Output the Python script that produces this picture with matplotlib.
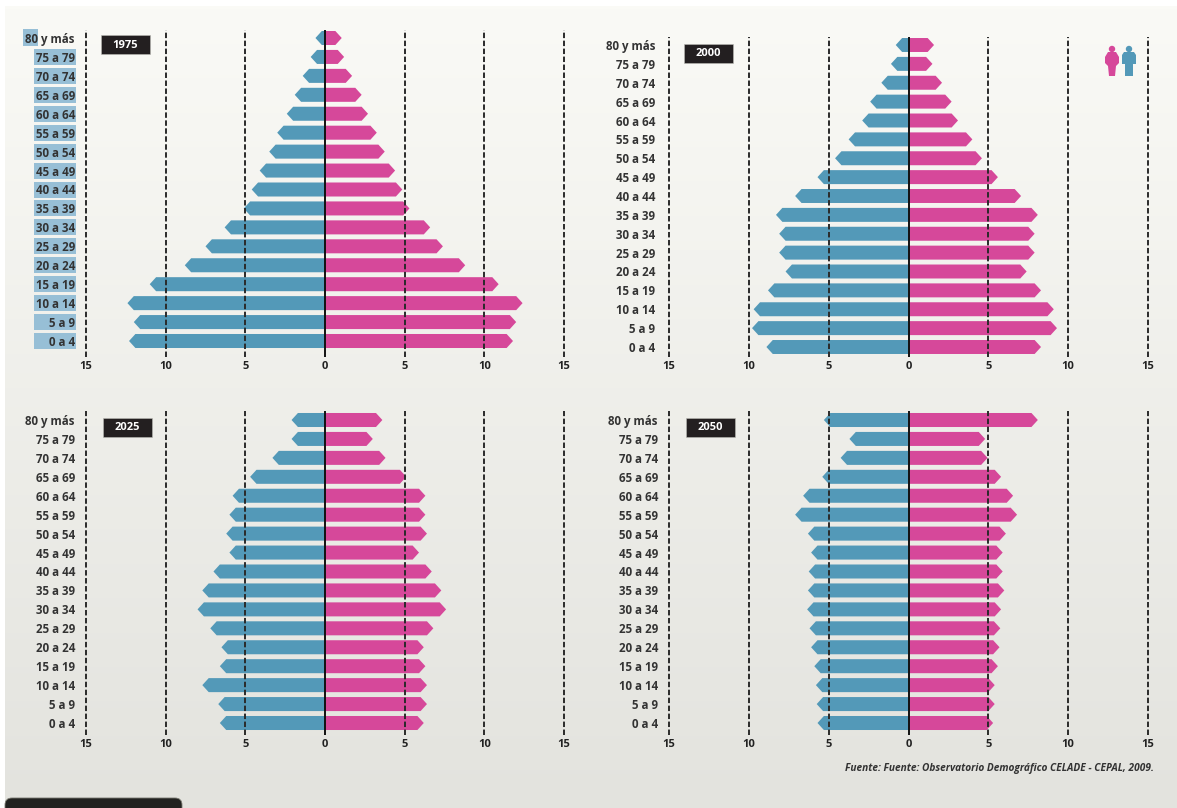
import matplotlib

matplotlib.use("Agg")
import matplotlib.pyplot as plt
import numpy as np
from matplotlib.patches import Circle, FancyBboxPatch, Polygon, Rectangle

W, H = 1177, 808

age_labels = ["80 y más", "75 a 79", "70 a 74", "65 a 69", "60 a 64", "55 a 59", "50 a 54", "45 a 49", "40 a 44",
              "35 a 39", "30 a 34", "25 a 29", "20 a 24", "15 a 19", "10 a 14", "5 a 9", "0 a 4"]
tick_values = [-15, -10, -5, 0, 5, 10, 15]
tick_labels = ["15", "10", "5", "0", "5", "10", "15"]
source_text = "Fuente: Fuente: Observatorio Demográfico CELADE - CEPAL, 2009."

men_1975 = [0.6, 0.9, 1.4, 1.9, 2.4, 3.0, 3.5, 4.1, 4.6, 5.1, 6.3, 7.5, 8.8, 11.0, 12.4, 12.0, 12.3]
women_1975 = [1.05, 1.2, 1.7, 2.3, 2.7, 3.25, 3.75, 4.4, 4.85, 5.3, 6.6, 7.4, 8.8, 10.9, 12.4, 12.0, 11.8]
men_2000 = [0.8, 1.1, 1.7, 2.4, 2.9, 3.75, 4.6, 5.7, 7.1, 8.3, 8.1, 8.1, 7.7, 8.8, 9.7, 9.8, 8.9]
women_2000 = [1.6, 1.5, 2.1, 2.7, 3.1, 4.0, 4.6, 5.6, 7.05, 8.1, 7.9, 7.9, 7.4, 8.3, 9.1, 9.3, 8.3]
men_2025 = [2.1, 2.1, 3.3, 4.7, 5.8, 6.0, 6.2, 6.0, 7.0, 7.7, 8.0, 7.2, 6.5, 6.6, 7.7, 6.7, 6.6]
women_2025 = [3.6, 3.0, 3.8, 5.1, 6.3, 6.3, 6.4, 5.9, 6.7, 7.3, 7.6, 6.8, 6.2, 6.3, 6.4, 6.4, 6.2]
men_2050 = [5.3, 3.7, 4.25, 5.4, 6.6, 7.1, 6.3, 6.1, 6.25, 6.3, 6.35, 6.2, 6.1, 5.9, 5.8, 5.75, 5.7]
women_2050 = [8.1, 4.8, 4.95, 5.8, 6.55, 6.8, 6.1, 5.9, 5.9, 6.0, 5.8, 5.75, 5.7, 5.6, 5.4, 5.4, 5.3]

BLUE = "#5399b8"
PINK = "#d6489a"
DARK = "#231f20"
HIGHLIGHT = "#97bfd6"
TIP = 0.4  # length of the arrow point, in axis units
HALF = 0.37  # half bar height, in rows

plt.rcParams["font.family"] = ["Open Sans", "DejaVu Sans"]

fig = plt.figure(figsize=(W / 100, H / 100), dpi=100, facecolor="white")

# full figure overlay in pixel coordinates, for background and decorations
bg = fig.add_axes([0, 0, 1, 1], zorder=0)
bg.axis("off")
gradient = np.linspace(0, 1, 256)[:, None, None] * (np.array([227, 227, 222]) - np.array([250, 250, 246])) + np.array([250, 250, 246])
bg.imshow(gradient / 255, extent=(5, W, H, 6), aspect="auto", zorder=0)
bg.set_xlim(0, W)
bg.set_ylim(H, 0)
bg.add_patch(FancyBboxPatch((5, 798), 177, 30, boxstyle="round,pad=0,rounding_size=7", fc="#222220", ec="#77776e", lw=0.6, zorder=1))


def draw_arrow_bars(ax, values, sign, color):
    for row, value in enumerate(values):
        shoulder = sign * (value - TIP)
        corners = [(0, row - HALF), (shoulder, row - HALF), (sign * value, row), (shoulder, row + HALF), (0, row + HALF)]
        ax.add_patch(Polygon(corners, closed=True, fc=color, ec="none", zorder=2))


def draw_panel(left, right, top, bottom, row_top, row_bottom, men, women, year, box_xy, label_pad, highlight=False):
    ax = fig.add_axes([left / W, 1 - bottom / H, (right - left) / W, (bottom - top) / H], zorder=1)
    ax.patch.set_visible(False)
    step = (row_bottom - row_top) / 16
    ax.set_xlim(-15, 15)
    ax.set_ylim((bottom - row_top) / step, (top - row_top) / step)
    for side in ax.spines.values():
        side.set_visible(False)

    draw_arrow_bars(ax, men, -1, BLUE)
    draw_arrow_bars(ax, women, 1, PINK)
    for value in tick_values:
        if value == 0:
            ax.axvline(0, color="#111111", lw=1.4, zorder=4)
        else:
            ax.axvline(value, color="#2a2a2a", lw=1.4, dashes=(2.8, 1.3), zorder=3, clip_on=False)

    ax.set_xticks(tick_values, tick_labels, fontsize=8, fontweight="bold", color="#222222")
    ax.tick_params(axis="x", length=0, pad=3)
    ax.set_yticks(range(len(age_labels)), age_labels, fontsize=8.3, fontweight="bold", color="#333333")
    ax.tick_params(axis="y", length=0, pad=label_pad)

    if highlight:
        for row in range(1, len(age_labels)):
            bg.add_patch(Rectangle((34, row_top + row * step - 8), 42, 16, fc=HIGHLIGHT, ec="none", zorder=1))
        bg.add_patch(Rectangle((23, row_top - 9), 15, 17, fc=HIGHLIGHT, ec="none", zorder=1))

    bg.add_patch(Rectangle(box_xy, 49, 19, fc=DARK, ec="#bbbbb5", lw=0.4, zorder=1))
    bg.text(box_xy[0] + 24.5, box_xy[1] + 10, year, color="white", fontsize=8, fontweight="bold",
            ha="center", va="center", zorder=2)
    return ax


draw_panel(86, 564, 30, 357, 38, 341, men_1975, women_1975, "1975", (101, 35), 8, highlight=True)
draw_panel(669, 1148, 37, 357, 45, 347, men_2000, women_2000, "2000", (684, 44), 10)
draw_panel(86, 564, 411, 735, 420, 723, men_2025, women_2025, "2025", (103, 418), 8)
draw_panel(669, 1148, 411, 735, 420, 723, men_2050, women_2050, "2050", (686, 418), 8)

# woman and man icons, top right
bg.add_patch(Circle((1112, 49), 3.2, fc=PINK, ec="none", zorder=2))
bg.add_patch(Polygon([(1108, 52), (1116, 52), (1119, 57), (1119, 63), (1116, 66), (1115, 76), (1109, 76), (1108, 66),
                      (1105, 63), (1105, 57)], closed=True, fc=PINK, ec="none", zorder=2))
bg.add_patch(Circle((1129, 49), 3.2, fc=BLUE, ec="none", zorder=2))
bg.add_patch(Polygon([(1124, 52), (1134, 52), (1136, 55), (1136, 64), (1133, 64), (1133, 76), (1125, 76), (1125, 64),
                      (1122, 64), (1122, 55)], closed=True, fc=BLUE, ec="none", zorder=2))

bg.text(1154, 769, source_text, ha="right", va="center", fontsize=7.3, fontstyle="italic", fontweight="bold",
        color="#333333", zorder=2)

fig.savefig("out.png", dpi=100)
